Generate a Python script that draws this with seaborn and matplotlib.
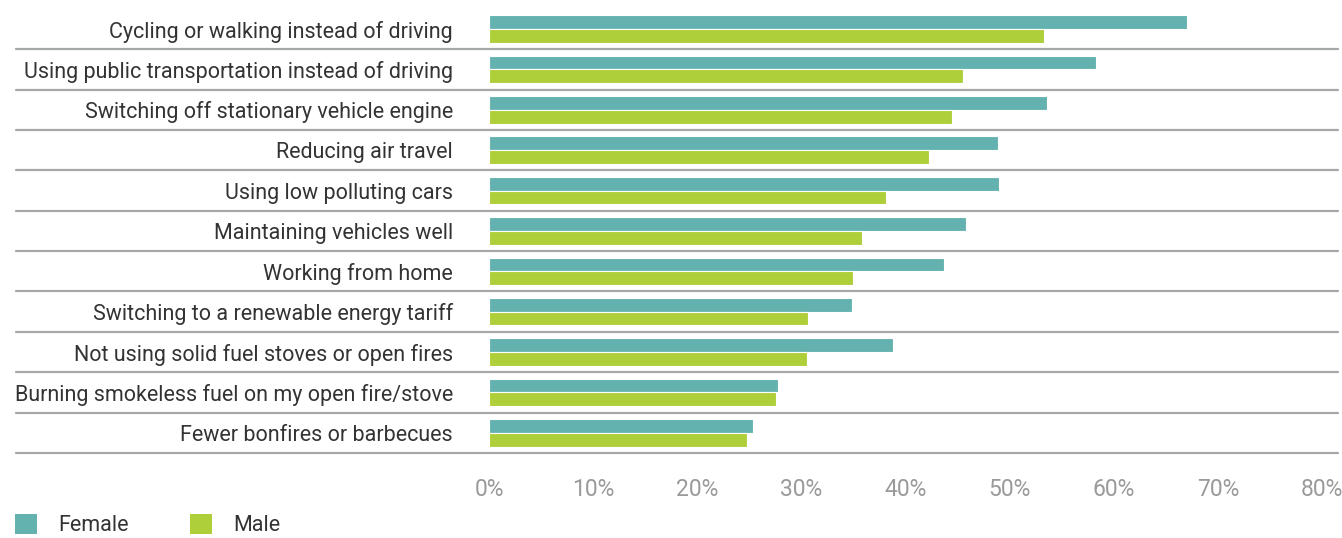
import pandas as pd
import matplotlib.pyplot as plt
import seaborn as sns
from matplotlib.patches import Patch

# Survey data (% of respondents)
actions = [
    'Cycling or walking instead of driving',
    'Using public transportation instead of driving',
    'Switching off stationary vehicle engine',
    'Reducing air travel',
    'Using low polluting cars',
    'Maintaining vehicles well',
    'Working from home',
    'Switching to a renewable energy tariff',
    'Not using solid fuel stoves or open fires',
    'Burning smokeless fuel on my open fire/stove',
    'Fewer bonfires or barbecues',
]
female = [67.0, 58.3, 53.6, 48.9, 49.0, 45.8, 43.7, 34.9, 38.8, 27.8, 25.4]
male = [53.3, 45.5, 44.5, 42.3, 38.1, 35.8, 35.0, 30.6, 30.5, 27.6, 24.8]
groups = ['Female', 'Male']
colors = ['#64b2af', '#aecf3a']

df = pd.DataFrame({
    'action': actions * 2,
    'value': female + male,
    'group': ['Female'] * len(actions) + ['Male'] * len(actions),
})

sns.set_theme(style='white')
plt.rcParams['font.family'] = ['Roboto', 'DejaVu Sans']

fig = plt.figure(figsize=(13.42, 5.38), dpi=100)
ax = fig.add_axes([0.3644, 0.158, 0.6207, 0.8256])

sns.barplot(data=df, y='action', x='value', hue='group', palette=colors,
            saturation=1, orient='h', width=0.68, edgecolor='white',
            linewidth=0.8, legend=False, ax=ax)

ax.set_xlim(0, 80)
ax.set_ylim(10.5, -0.5)
ax.set_xticks(range(0, 81, 10))
ax.set_xticklabels([f'{t}%' for t in range(0, 81, 10)])
ax.set_xlabel('')
ax.set_ylabel('')

for s in ['top', 'right', 'left', 'bottom']:
    ax.spines[s].set_visible(False)

# row separators spanning label area
for i in range(len(actions)):
    ax.axhline(i + 0.5, xmin=-0.568, xmax=1.019, color='#a5a8a8',
               linewidth=1.6, clip_on=False, zorder=0)

ax.tick_params(axis='x', direction='out', length=10, width=1.5, color='#aaaaaa',
               labelcolor='#9a9a9a', labelsize=16.5, pad=8)
ax.tick_params(axis='y', length=0, labelcolor='#333333', labelsize=15.5, pad=26)

handles = [Patch(facecolor=c, edgecolor='none') for c in colors]
fig.legend(handles, groups, loc='lower left', bbox_to_anchor=(-0.003, -0.033),
           ncol=2, frameon=False, fontsize=15.5, handlelength=1.0,
           handleheight=1.1, handletextpad=1.0, columnspacing=2.85,
           labelcolor='#333333')

fig.savefig('out.png', dpi=100)
